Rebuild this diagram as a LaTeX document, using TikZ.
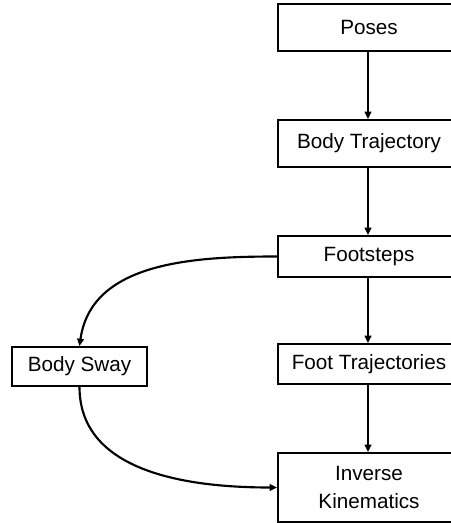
\documentclass[tikz,border=0pt]{standalone}
\usepackage{fontspec}
\setmainfont{Liberation Sans}
\usetikzlibrary{arrows.meta}
\begin{document}
\begin{tikzpicture}[x=0.75pt,y=-0.75pt,
  box/.style={draw=black,line width=1.4pt,fill=white,inner sep=0pt,align=center,
    font=\fontsize{15.5}{20.5}\selectfont},
  mainbox/.style={box,minimum width=136.5pt},
  conn/.style={draw=black,line width=1.6pt,-{Triangle[length=5.5pt,width=5pt]}}]
\useasboundingbox[fill=white] (0,0) rectangle (450,523);
\node[mainbox,minimum height=35.25pt] (poses) at (369,27.5) {Poses};
\node[mainbox,minimum height=35.25pt] (body) at (369,143.5) {Body Trajectory};
\node[mainbox,minimum height=30.75pt] (steps) at (369,256.5) {Footsteps};
\node[mainbox,minimum height=30pt] (foot) at (369,364) {Foot Trajectories};
\node[mainbox,minimum height=51.75pt] (ik) at (369,487.5) {Inverse\\Kinematics};
\node[box,minimum width=101.25pt,minimum height=29.25pt] (sway) at (79.5,366.5) {Body Sway};
\draw[conn] (poses.south -| 368,0) -- (body.north -| 368,0);
\draw[conn] (body.south -| 368,0) -- (steps.north -| 368,0);
\draw[conn] (steps.south -| 368,0) -- (foot.north -| 368,0);
\draw[conn] (foot.south -| 368,0) -- (ik.north -| 368,0);
\draw[conn] (steps.west) to[out=180,in=82] (sway.north);
\draw[conn] (sway.south) to[out=-90,in=180] (ik.west);
\end{tikzpicture}
\end{document}
